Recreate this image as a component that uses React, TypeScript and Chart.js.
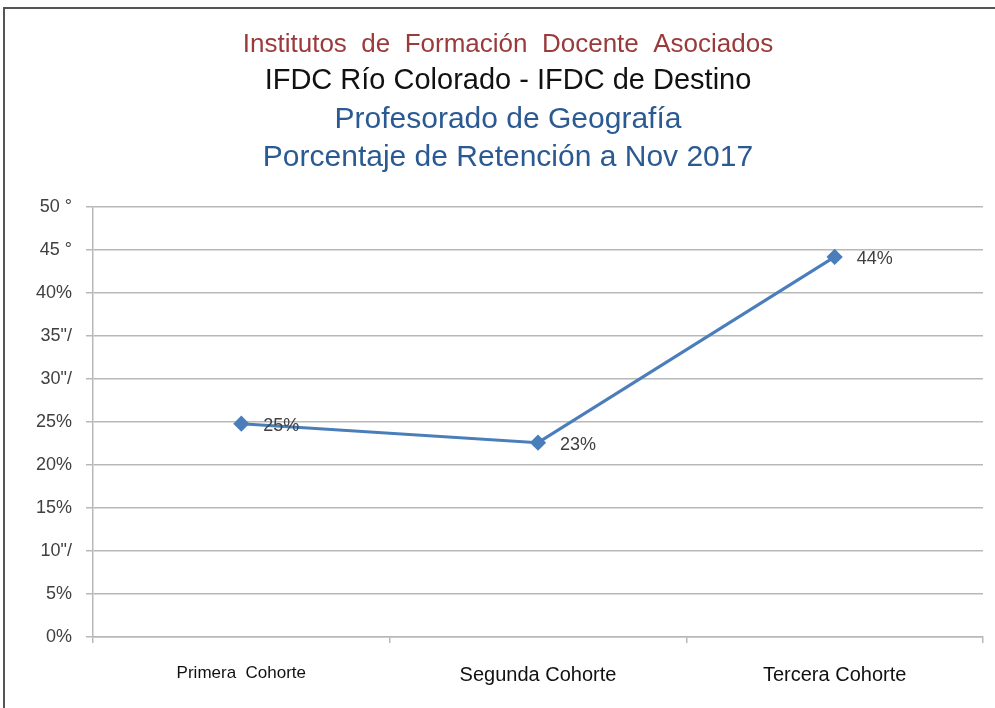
import React, { useEffect, useRef } from "react";
import { Chart, registerables } from "chart.js";

Chart.register(...registerables);

const categories = ["Primera  Cohorte", "Segunda Cohorte", "Tercera Cohorte"];
const retention = [24.8, 22.6, 44.2];
const pointLabels = ["25%", "23%", "44%"];
const yTickLabels = ["0%", "5%", "10\"/", "15%", "20%", "25%", "30\"/", "35\"/", "40%", "45 °", "50 °"];
const titleLines = [
  "Institutos  de  Formación  Docente  Asociados",
  "IFDC Río Colorado - IFDC de Destino",
  "Profesorado de Geografía",
  "Porcentaje de Retención a Nov 2017",
];
const titleColors = ["#9a3a3a", "#111111", "#2b5a93", "#2b5a93"];
const titleFonts = [
  "26px 'Liberation Sans', Arial",
  "29px 'Liberation Sans', Arial",
  "30px 'Liberation Sans', Arial",
  "30px 'Liberation Sans', Arial",
];
const titleY = [45, 81, 120, 158];

const titlePlugin = {
  id: "multiTitle",
  afterDraw(chart: any) {
    const ctx = chart.ctx;
    ctx.save();
    ctx.textAlign = "center";
    ctx.textBaseline = "middle";
    titleLines.forEach((t, i) => {
      ctx.font = titleFonts[i];
      ctx.fillStyle = titleColors[i];
      ctx.fillText(t, 508, titleY[i]);
    });
    ctx.restore();
  },
};

const labelPlugin = {
  id: "pointLabels",
  afterDatasetsDraw(chart: any) {
    const ctx = chart.ctx;
    const meta = chart.getDatasetMeta(0);
    ctx.save();
    ctx.font = "18px 'Liberation Sans', Arial";
    ctx.fillStyle = "#404040";
    ctx.textAlign = "left";
    ctx.textBaseline = "middle";
    meta.data.forEach((pt: any, i: number) => {
      ctx.fillText(pointLabels[i], pt.x + 22, pt.y + 2);
    });
    ctx.restore();
  },
};

export default function App() {
  const ref = useRef<HTMLCanvasElement>(null);
  useEffect(() => {
    const chart = new Chart(ref.current!, {
      type: "line",
      data: {
        labels: categories,
        datasets: [
          {
            data: retention,
            borderColor: "#4a7ebb",
            backgroundColor: "#4a7ebb",
            borderWidth: 3,
            pointStyle: "rectRot",
            pointRadius: 6,
            pointHoverRadius: 6,
            tension: 0,
          },
        ],
      },
      options: {
        animation: false,
        responsive: false,
        maintainAspectRatio: false,
        layout: { padding: { top: 207, right: 12, left: 0, bottom: 0 } },
        plugins: { legend: { display: false }, tooltip: { enabled: false } },
        scales: {
          x: {
            offset: true,
            grid: {
              offset: true,
              drawOnChartArea: false,
              drawTicks: true,
              tickLength: 6,
              color: "#b8b8b8",
              lineWidth: 1.5,
            },
            border: { color: "#b8b8b8", width: 1.5 },
            ticks: {
              padding: 20,
              color: "#111111",
              font: (c: any) => ({
                family: "'Liberation Sans', Arial",
                size: c.index === 0 ? 17 : 20,
              }),
              maxRotation: 0,
            },
            afterFit(scale: any) {
              scale.height = 71;
            },
          },
          y: {
            min: 0,
            max: 50,
            ticks: {
              stepSize: 5,
              padding: 14,
              color: "#404040",
              font: { family: "'Liberation Sans', Arial", size: 18 },
              callback: (_v: any, i: number) => yTickLabels[i],
            },
            grid: { color: "#b8b8b8", lineWidth: 1.5, tickLength: 7 },
            border: { color: "#b8b8b8", width: 1.5 },
            afterFit(scale: any) {
              scale.width = 93;
            },
          },
        },
      },
      plugins: [titlePlugin, labelPlugin],
    });
    return () => chart.destroy();
  }, []);
  return (
    <div style={{ position: "absolute", left: 0, top: 0, width: 995, height: 708, background: "#fff", overflow: "hidden" }}>
      <div style={{ position: "absolute", left: 3, top: 7, width: 992, height: 701, borderLeft: "2px solid #555", borderTop: "2px solid #555" }} />
      <canvas ref={ref} width={995} height={708} style={{ position: "absolute", left: 0, top: 0 }} />
    </div>
  );
}
